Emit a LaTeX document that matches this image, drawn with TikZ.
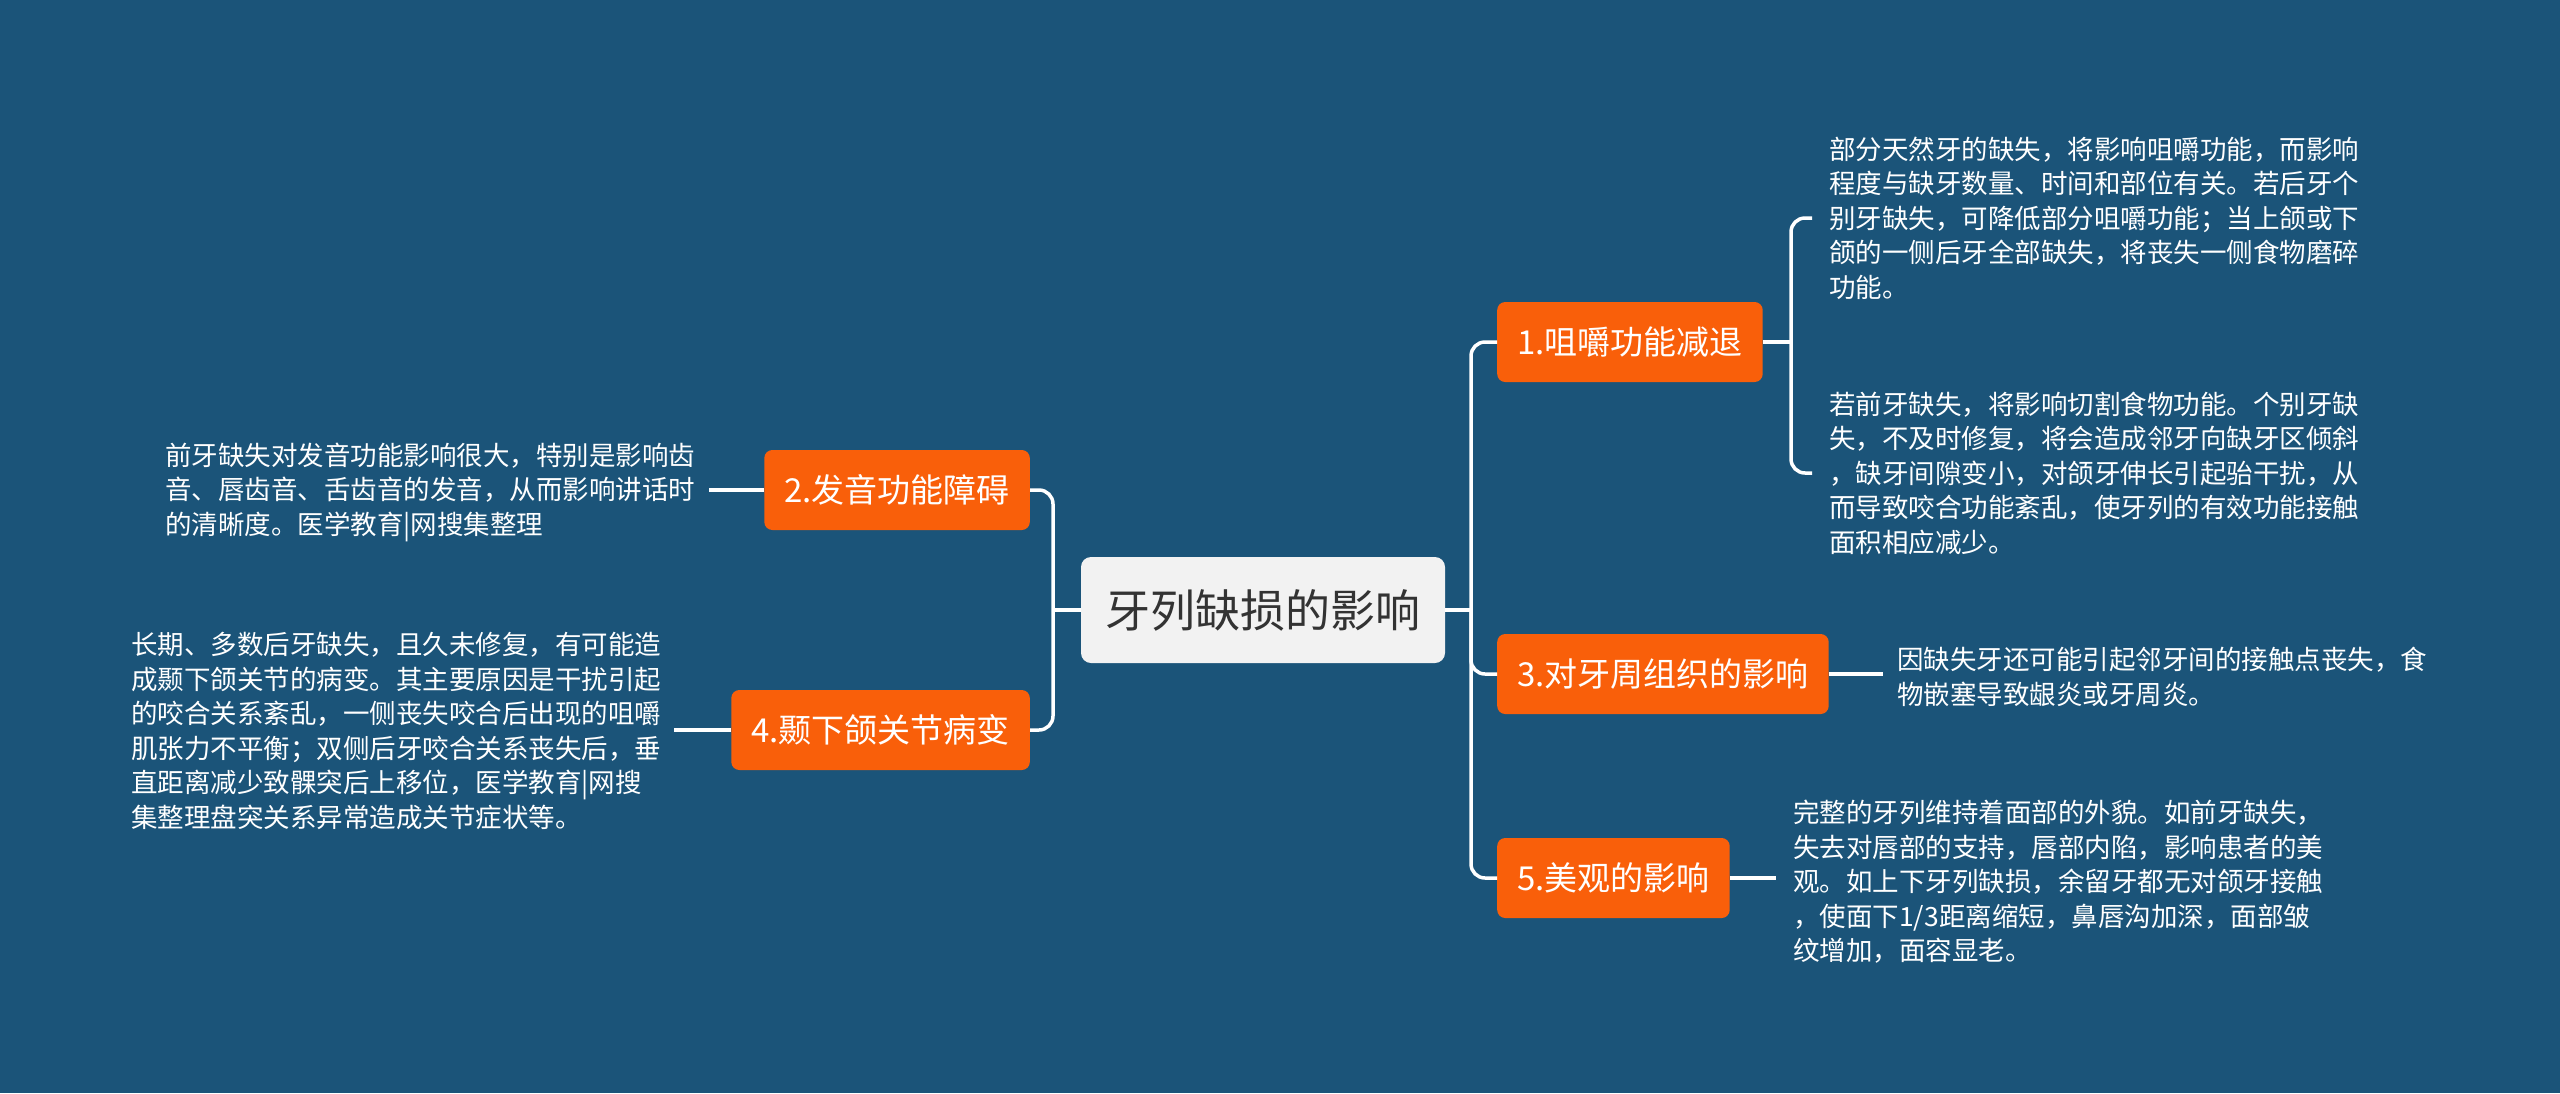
\documentclass[tikz,border=0pt]{standalone}
\usepackage{fontspec}
\newfontfamily\cjk{Noto Sans CJK SC}
\definecolor{bg}{HTML}{1B5479}
\definecolor{topicfill}{HTML}{F95F0A}
\definecolor{rootfill}{HTML}{F2F2F2}
\definecolor{roottext}{HTML}{333333}
\begin{document}
\begin{tikzpicture}[x=1pt,y=-1pt,
  conn/.style={draw=white, line width=3.5pt},
  rootbox/.style={fill=rootfill, rounded corners=10pt, text=roottext, font=\cjk\fontsize{45}{54}\selectfont, minimum height=106pt, minimum width=364pt, inner ysep=0pt},
  topic/.style={fill=topicfill, rounded corners=8pt, text=white, font=\cjk\fontsize{33}{40}\selectfont, minimum height=80pt, inner xsep=20pt, inner ysep=0pt},
  leaf/.style={text=white, font=\cjk\fontsize{26.5}{34.5}\selectfont, align=left, inner sep=0pt}]
\fill[bg] (0,0) rectangle (2560,1093);
\useasboundingbox (0,0) rectangle (2560,1093);

\node[rootbox] (c) at (1263,610) {牙列缺损的影响};
\node[topic, anchor=west] (n1) at (1497,342) {1.咀嚼功能减退};
\node[topic, anchor=east] (n2) at (1030,490) {2.发音功能障碍};
\node[topic, anchor=west] (n3) at (1497,674) {3.对牙周组织的影响};
\node[topic, anchor=east] (n4) at (1030,730) {4.颞下颌关节病变};
\node[topic, anchor=west] (n5) at (1497,878) {5.美观的影响};

\node[leaf, anchor=west] (l1a) at (1829,218) {部分天然牙的缺失，将影响咀嚼功能，而影响\\程度与缺牙数量、时间和部位有关。若后牙个\\别牙缺失，可降低部分咀嚼功能；当上颌或下\\颌的一侧后牙全部缺失，将丧失一侧食物磨碎\\功能。};
\node[leaf, anchor=west] (l1b) at (1829,473) {若前牙缺失，将影响切割食物功能。个别牙缺\\失，不及时修复，将会造成邻牙向缺牙区倾斜\\，缺牙间隙变小，对颌牙伸长引起骀干扰，从\\而导致咬合功能紊乱，使牙列的有效功能接触\\面积相应减少。};
\node[leaf, anchor=west] (l3) at (1897,677) {因缺失牙还可能引起邻牙间的接触点丧失，食\\物嵌塞导致龈炎或牙周炎。};
\node[leaf, anchor=west] (l5) at (1793,882) {完整的牙列维持着面部的外貌。如前牙缺失，\\失去对唇部的支持，唇部内陷，影响患者的美\\观。如上下牙列缺损，余留牙都无对颌牙接触\\，使面下1/3距离缩短，鼻唇沟加深，面部皱\\纹增加，面容显老。};
\node[leaf, anchor=west] (l2) at (165,492) {前牙缺失对发音功能影响很大，特别是影响齿\\音、唇齿音、舌齿音的发音，从而影响讲话时\\的清晰度。医学教育|网搜集整理};
\node[leaf, anchor=west] (l4) at (131,731) {长期、多数后牙缺失，且久未修复，有可能造\\成颞下颌关节的病变。其主要原因是干扰引起\\的咬合关系紊乱，一侧丧失咬合后出现的咀嚼\\肌张力不平衡；双侧后牙咬合关系丧失后，垂\\直距离减少致髁突后上移位，医学教育|网搜\\集整理盘突关系异常造成关节症状等。};

\coordinate (tr) at (1471,610);
\coordinate (tl) at (1053,610);
\coordinate (b1) at (1791,342);
\draw[conn] (c.east) -- (tr);
\draw[conn, rounded corners=14pt] (n1.west) -| (tr) |- (n5.west);
\draw[conn, rounded corners=14pt] (tr) |- (n3.west);
\draw[conn] (c.west) -- (tl);
\draw[conn, rounded corners=14pt] (n2.east) -| (tl) |- (n4.east);
\draw[conn] (n1.east) -- (b1);
\draw[conn, rounded corners=14pt] ([xshift=-17pt]l1a.west) -| (b1) |- ([xshift=-17pt]l1b.west);
\draw[conn] (n3.east) -- ([xshift=-14pt]l3.west |- n3.east);
\draw[conn] (n5.east) -- ([xshift=-17pt]l5.west |- n5.east);
\draw[conn] (n2.west) -- ([xshift=14pt]l2.east |- n2.west);
\draw[conn] (n4.west) -- ([xshift=13pt]l4.east |- n4.west);
\end{tikzpicture}
\end{document}
